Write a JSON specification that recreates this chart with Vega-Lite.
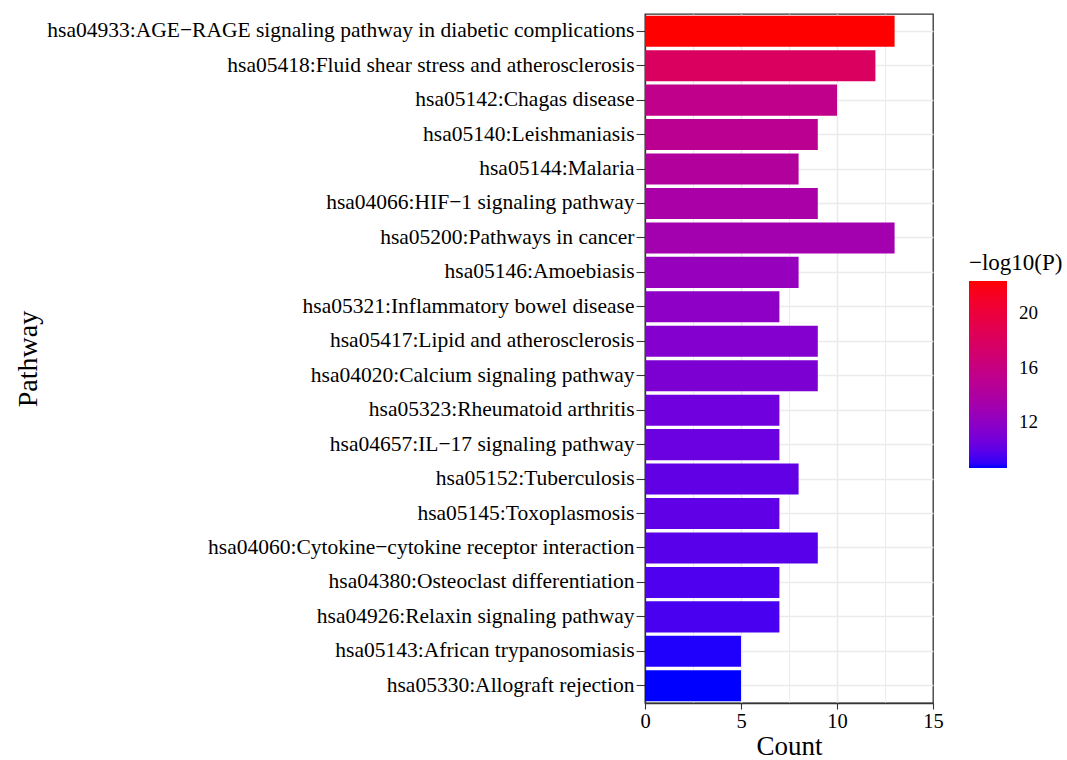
{
  "$schema": "https://vega.github.io/schema/vega-lite/v6.json",
  "width": 288,
  "height": 689,
  "autosize": {"type": "none"},
  "padding": {"left": 645, "top": 14, "right": 134, "bottom": 57},
  "background": "white",
  "config": {
    "font": "Liberation Serif",
    "view": {"stroke": "#333333", "strokeWidth": 1.3}
  },
  "data": {
    "values": [
      {"pathway": "hsa04933:AGE−RAGE signaling pathway in diabetic complications", "count": 13, "logp": 22.38},
      {"pathway": "hsa05418:Fluid shear stress and atherosclerosis", "count": 12, "logp": 18.0},
      {"pathway": "hsa05142:Chagas disease", "count": 10, "logp": 15.4},
      {"pathway": "hsa05140:Leishmaniasis", "count": 9, "logp": 15.0},
      {"pathway": "hsa05144:Malaria", "count": 8, "logp": 14.3},
      {"pathway": "hsa04066:HIF−1 signaling pathway", "count": 9, "logp": 13.7},
      {"pathway": "hsa05200:Pathways in cancer", "count": 13, "logp": 13.2},
      {"pathway": "hsa05146:Amoebiasis", "count": 8, "logp": 12.4},
      {"pathway": "hsa05321:Inflammatory bowel disease", "count": 7, "logp": 11.9},
      {"pathway": "hsa05417:Lipid and atherosclerosis", "count": 9, "logp": 11.4},
      {"pathway": "hsa04020:Calcium signaling pathway", "count": 9, "logp": 11.1},
      {"pathway": "hsa05323:Rheumatoid arthritis", "count": 7, "logp": 10.56},
      {"pathway": "hsa04657:IL−17 signaling pathway", "count": 7, "logp": 10.36},
      {"pathway": "hsa05152:Tuberculosis", "count": 8, "logp": 10.08},
      {"pathway": "hsa05145:Toxoplasmosis", "count": 7, "logp": 10.0},
      {"pathway": "hsa04060:Cytokine−cytokine receptor interaction", "count": 9, "logp": 9.8},
      {"pathway": "hsa04380:Osteoclast differentiation", "count": 7, "logp": 9.55},
      {"pathway": "hsa04926:Relaxin signaling pathway", "count": 7, "logp": 9.4},
      {"pathway": "hsa05143:African trypanosomiasis", "count": 5, "logp": 8.8},
      {"pathway": "hsa05330:Allograft rejection", "count": 5, "logp": 8.64}
    ]
  },
  "mark": {"type": "bar"},
  "encoding": {
    "y": {
      "field": "pathway",
      "type": "nominal",
      "sort": null,
      "scale": {"paddingInner": 0.1, "paddingOuter": 0.05},
      "axis": {
        "title": "Pathway",
        "titleFontSize": 28,
        "titleFontWeight": "normal",
        "titleColor": "black",
        "titleAngle": 270,
        "titleX": -617,
        "titleY": 344.5,
        "titleBaseline": "middle",
        "titleAlign": "center",
        "domain": true,
        "domainColor": "#333333",
        "domainWidth": 1.3,
        "tickColor": "#333333",
        "tickSize": 9,
        "tickWidth": 1.1,
        "labelFontSize": 21.5,
        "labelColor": "black",
        "labelPadding": 2,
        "labelLimit": 0,
        "grid": true,
        "gridColor": "#EBEBEB",
        "gridWidth": 1.6,
        "bandPosition": 0.5
      }
    },
    "x": {
      "field": "count",
      "type": "quantitative",
      "scale": {"domain": [0, 15], "nice": false, "zero": true},
      "axis": {
        "title": "Count",
        "titleFontSize": 27,
        "titleFontWeight": "normal",
        "titleColor": "black",
        "titlePadding": 2,
        "values": [0, 2.5, 5, 7.5, 10, 12.5, 15],
        "labelExpr": "datum.value % 5 === 0 ? datum.label : ''",
        "labelFontSize": 20.5,
        "labelColor": "black",
        "labelPadding": 2,
        "labelFlush": false,
        "domain": true,
        "domainColor": "#333333",
        "domainWidth": 1.3,
        "tickColor": "#333333",
        "tickSize": 6,
        "tickWidth": 1.1,
        "tickOpacity": {"condition": {"test": "datum.value % 5 !== 0", "value": 0}, "value": 1},
        "grid": true,
        "gridColor": "#EBEBEB",
        "gridOpacity": {"condition": {"test": "datum.value === 0 || datum.value === 15", "value": 0}, "value": 1},
        "gridWidth": {"condition": {"test": "datum.value % 5 !== 0", "value": 1.0}, "value": 1.6}
      }
    },
    "color": {
      "field": "logp",
      "type": "quantitative",
      "scale": {"domain": [8.64, 22.38], "range": ["#0000FF", "#FF0000"], "interpolate": "lab"},
      "legend": {
        "title": "−log10(P)",
        "orient": "none",
        "legendX": 324,
        "legendY": 238,
        "direction": "vertical",
        "gradientLength": 187,
        "gradientThickness": 38,
        "gradientStrokeWidth": 0,
        "values": [12, 16, 20],
        "labelFontSize": 19,
        "labelColor": "black",
        "labelOffset": 12,
        "titleFontSize": 23,
        "titleFontWeight": "normal",
        "titleColor": "black",
        "titlePadding": 6
      }
    }
  }
}
